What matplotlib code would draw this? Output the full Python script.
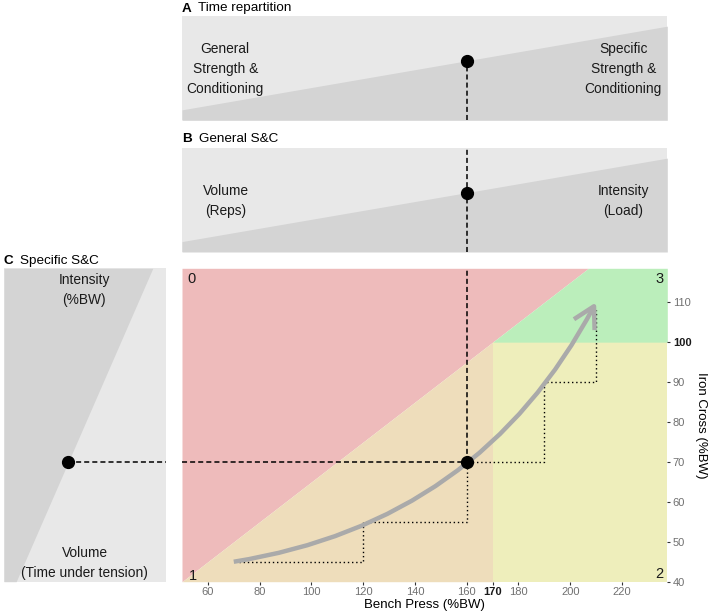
import matplotlib
matplotlib.use("Agg")
import matplotlib.pyplot as plt
from matplotlib.patches import FancyArrowPatch

plt.rcParams["font.family"] = ["Liberation Sans", "DejaVu Sans"]

# ---------------------------------------------------------------------------
# Data
# ---------------------------------------------------------------------------
W, H = 709, 616

bench_lim = (50, 237.5)
iron_lim = (40, 118.5)

bench_ticks = [60, 80, 100, 120, 140, 160, 170, 180, 200, 220]
iron_ticks = [40, 50, 60, 70, 80, 90, 100, 110]
bench_bold = 170
iron_bold = 100

# zone boundaries (bench press %BW, iron cross %BW)
diag_x = [50, 170, 207]
diag_y = [40, 100, 118.5]
bench_threshold = 170
iron_threshold = 100

zone_labels = ["0", "1", "2", "3"]
zone_colors = ["#EEBBBB", "#EEDDBB", "#EEEEBB", "#BBEEBB"]

# athlete position
athlete_bench = 160
athlete_iron = 70

# progression steps (dotted) and trend arrow
step_x = [72, 120, 120, 160, 160, 190, 190, 210, 210]
step_y = [45, 45, 55, 55, 70, 70, 90, 90, 108]
arrow_start = (70, 45)
arrow_end = (210, 110)

# panel A / B: share of time, left to right
share_x = [50, 237.5]
share_a = [0.10, 0.90]
share_b = [0.10, 0.90]
share_dot = 0.567

# panel C: intensity share, bottom to top
share_c_x = [0.075, 0.92]
share_c_dot = 0.398

LIGHT = "#E8E8E8"
DARK = "#D4D4D4"

# ---------------------------------------------------------------------------
# Layout
# ---------------------------------------------------------------------------
fig = plt.figure(figsize=(W / 100, H / 100), dpi=100)


def box(x0, y0, x1, y1):
    return [x0 / W, 1 - y1 / H, (x1 - x0) / W, (y1 - y0) / H]


ax_a = fig.add_axes(box(182, 15.7, 667.3, 120.3))
ax_b = fig.add_axes(box(182, 147.7, 667.3, 252))
ax_m = fig.add_axes(box(182, 268.3, 667.3, 581.7))
ax_c = fig.add_axes(box(4, 268.3, 165.7, 581.7))

dash_kw = dict(color="black", lw=1.1, dashes=(3.3, 2.0))
dot_kw = dict(marker="o", color="black", ms=8.5, zorder=6, clip_on=False)
txt_kw = dict(ha="center", va="center", fontsize=9.9, linespacing=1.55,
              color="#1a1a1a")

# --- panels A and B --------------------------------------------------------
for ax, share in ((ax_a, share_a), (ax_b, share_b)):
    ax.set_xlim(*bench_lim)
    ax.set_ylim(0, 1)
    ax.set_facecolor(LIGHT)
    ax.fill_between(share_x, [0, 0], share, color=DARK, lw=0)
    ax.set_xticks([])
    ax.set_yticks([])
    for s in ax.spines.values():
        s.set_visible(False)

ax_a.plot([athlete_bench, athlete_bench], [0, share_dot], **dash_kw)
ax_a.plot(athlete_bench, share_dot, **dot_kw)
ax_a.text(66.7, 0.49, "General\nStrength &\nConditioning", **txt_kw)
ax_a.text(220.5, 0.49, "Specific\nStrength &\nConditioning", **txt_kw)

ax_b.plot([athlete_bench, athlete_bench], [0, 1], **dash_kw)
ax_b.plot(athlete_bench, share_dot, **dot_kw)
ax_b.text(66.9, 0.49, "Volume\n(Reps)", **txt_kw)
ax_b.text(220.6, 0.49, "Intensity\n(Load)", **txt_kw)

# --- panel C ---------------------------------------------------------------
ax_c.set_xlim(0, 1)
ax_c.set_ylim(*iron_lim)
ax_c.set_facecolor(LIGHT)
ax_c.fill_betweenx(list(iron_lim), [0, 0], share_c_x, color=DARK, lw=0)
ax_c.plot([share_c_dot, 1], [athlete_iron, athlete_iron], **dash_kw)
ax_c.plot(share_c_dot, athlete_iron, **dot_kw)
ax_c.text(0.497, 113.1, "Intensity\n(%BW)", **txt_kw)
ax_c.text(0.5, 44.7, "Volume\n(Time under tension)", **txt_kw)
ax_c.set_xticks([])
ax_c.set_yticks([])
for s in ax_c.spines.values():
    s.set_visible(False)

# --- main panel ------------------------------------------------------------
ax = ax_m
ax.set_xlim(*bench_lim)
ax.set_ylim(*iron_lim)
xl, xr = bench_lim
yb, yt = iron_lim

# zone 0: above diagonal
ax.fill_between(diag_x, diag_y, [yt] * 3, color=zone_colors[0], lw=0)
# zone 1: below diagonal, bench < threshold
ax.fill_between(diag_x[:2], [yb, yb], diag_y[:2], color=zone_colors[1], lw=0)
# zone 2: bench > threshold, iron < threshold
ax.fill_between([bench_threshold, xr], [yb, yb], [iron_threshold] * 2,
                color=zone_colors[2], lw=0)
# zone 3: iron > threshold, below diagonal
ax.fill_between([diag_x[1], diag_x[2], xr], [iron_threshold] * 3,
                [diag_y[1], diag_y[2], yt], color=zone_colors[3], lw=0)

ax.plot(step_x, step_y, color="black", lw=1.0, linestyle=(0, (1, 2)), zorder=3)
ax.plot([athlete_bench, athlete_bench], [athlete_iron, yt], zorder=4, **dash_kw)
ax.plot([xl, athlete_bench], [athlete_iron, athlete_iron], zorder=4, **dash_kw)

arrow = FancyArrowPatch(arrow_start, arrow_end, connectionstyle="arc3,rad=0.25",
                        arrowstyle="->,head_length=5,head_width=2.8",
                        color="#AAAAAA", lw=3.2, shrinkA=0, shrinkB=0,
                        mutation_scale=3.0, zorder=5, capstyle="butt")
ax.add_patch(arrow)
ax.plot(athlete_bench, athlete_iron, **dot_kw)

corner_kw = dict(fontsize=10.5, color="#1a1a1a", xycoords="axes fraction",
                 textcoords="offset pixels")
ax.annotate(zone_labels[0], (0, 1), xytext=(10, -11), ha="center", va="center", **corner_kw)
ax.annotate(zone_labels[3], (1, 1), xytext=(-8, -11), ha="center", va="center", **corner_kw)
ax.annotate(zone_labels[1], (0, 0), xytext=(11, 6), ha="center", va="center", **corner_kw)
ax.annotate(zone_labels[2], (1, 0), xytext=(-8, 8), ha="center", va="center", **corner_kw)

for s in ax.spines.values():
    s.set_visible(False)
ax.yaxis.tick_right()
ax.yaxis.set_label_position("right")
ax.set_xticks(bench_ticks)
ax.set_xticklabels([str(t) for t in bench_ticks])
ax.set_yticks(iron_ticks)
ax.set_yticklabels([str(t) for t in iron_ticks])
ax.tick_params(axis="both", length=2.2, width=0.8, color="#333333",
               labelsize=8, labelcolor="#707070", pad=1.8)
for lab, t in zip(ax.get_xticklabels(), bench_ticks):
    if t == bench_bold:
        lab.set_fontweight("bold")
        lab.set_color("#1a1a1a")
for lab, t in zip(ax.get_yticklabels(), iron_ticks):
    if t == iron_bold:
        lab.set_fontweight("bold")
        lab.set_color("#1a1a1a")
ax.set_xlabel("Bench Press (%BW)", fontsize=9.5, labelpad=1)
ax.set_ylabel("Iron Cross (%BW)", fontsize=9.5, rotation=-90, labelpad=11)

# --- panel titles ----------------------------------------------------------
for letter, title, lx, tx, ty in (("A", "Time repartition", 182, 198.3, 8.5),
                                  ("B", "General S&C", 182, 199.3, 139.5),
                                  ("C", "Specific S&C", 4, 20, 261)):
    fig.text(lx / W, 1 - ty / H, letter, fontsize=9.7, fontweight="bold",
             va="center", ha="left")
    fig.text(tx / W, 1 - ty / H, title, fontsize=9.7, va="center", ha="left")

fig.savefig("out.png", dpi=100)
